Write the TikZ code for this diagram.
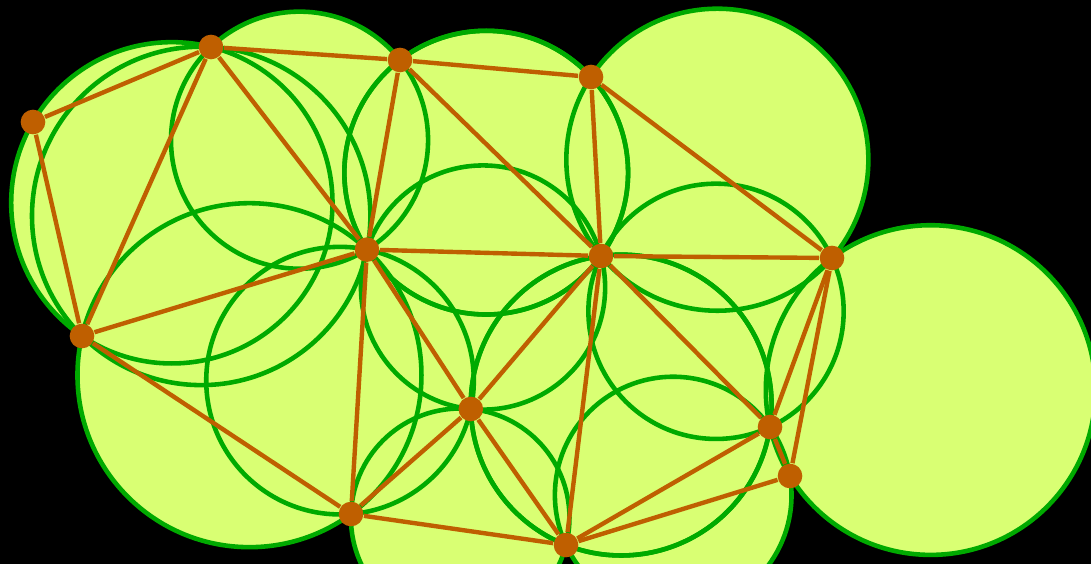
\documentclass[tikz,border=0pt]{standalone}
\usepackage{xcolor}
\pgfdeclarelayer{background}
\pgfdeclarelayer{foreground}
\pgfsetlayers{background,main,foreground}
\definecolor{discfill}{HTML}{D9FF73}
\definecolor{rimgreen}{HTML}{00AA00}
\definecolor{linkorange}{HTML}{BF5F00}
% circumcircle of three named sites, worked out in units of 50pt
\newcommand{\circumdisc}[3]{%
  \pgfpointanchor{#1}{center}\pgfgetlastxy{\ax}{\ay}%
  \pgfpointanchor{#2}{center}\pgfgetlastxy{\bx}{\by}%
  \pgfpointanchor{#3}{center}\pgfgetlastxy{\cx}{\cy}%
  \pgfmathsetmacro{\ax}{\ax/50}\pgfmathsetmacro{\ay}{\ay/50}%
  \pgfmathsetmacro{\bx}{\bx/50}\pgfmathsetmacro{\by}{\by/50}%
  \pgfmathsetmacro{\cx}{\cx/50}\pgfmathsetmacro{\cy}{\cy/50}%
  \pgfmathsetmacro{\sqa}{\ax*\ax+\ay*\ay}%
  \pgfmathsetmacro{\sqb}{\bx*\bx+\by*\by}%
  \pgfmathsetmacro{\sqc}{\cx*\cx+\cy*\cy}%
  \pgfmathsetmacro{\den}{2*(\ax*(\by-\cy)+\bx*(\cy-\ay)+\cx*(\ay-\by))}%
  \pgfmathsetmacro{\ux}{(\sqa*(\by-\cy)+\sqb*(\cy-\ay)+\sqc*(\ay-\by))/\den}%
  \pgfmathsetmacro{\uy}{(\sqa*(\cx-\bx)+\sqb*(\ax-\cx)+\sqc*(\bx-\ax))/\den}%
  \pgfmathsetmacro{\rr}{sqrt((\ax-\ux)^2+(\ay-\uy)^2)}%
  \begin{pgfonlayer}{background}
    \path[disc] (\ux*50pt,\uy*50pt) circle (\rr*50pt);
  \end{pgfonlayer}
  \path[rim] (\ux*50pt,\uy*50pt) circle (\rr*50pt);
}
\tikzset{
  disc/.style={fill=discfill},
  rim/.style={draw=rimgreen, line width=1.3pt},
  link/.style={draw=linkorange, line width=1.25pt},
  site/.style={
    circle,
    fill=linkorange,
    inner sep=0pt,
    minimum size=7pt
  }
}

\begin{document}
\begin{tikzpicture}[x=0.01cm, y=-0.01cm]

\useasboundingbox (0,0) rectangle (1091,564);
\begin{pgfonlayer}{background}
\fill[black] (0,0) rectangle (1091,564);
\end{pgfonlayer}

% Sites of the triangulation.
\begin{pgfonlayer}{foreground}
\node[site] (p1)  at (33,122)  {};
\node[site] (p2)  at (211,47)  {};
\node[site] (p3)  at (400,60)  {};
\node[site] (p4)  at (591,77)  {};
\node[site] (p5)  at (367,249.6) {};
\node[site] (p6)  at (601,256) {};
\node[site] (p7)  at (832,258) {};
\node[site] (p8)  at (82,336)  {};
\node[site] (p9)  at (470.8,409) {};
\node[site] (p10) at (770,427) {};
\node[site] (p11) at (790,476) {};
\node[site] (p12) at (351,514) {};
\node[site] (p13) at (566,545) {};
\end{pgfonlayer}

% One circumcircle per triangle: fills go underneath, rims stay on top.
\foreach \a/\b/\c in {p1/p2/p8, p2/p5/p8, p2/p3/p5, p3/p5/p6, p3/p4/p6,
                      p4/p6/p7, p5/p8/p12, p5/p9/p12, p5/p6/p9, p6/p9/p13,
                      p9/p12/p13, p6/p7/p10, p6/p10/p13, p10/p11/p13, p7/p10/p11}
  {\circumdisc{\a}{\b}{\c}}

% Triangle edges.
\foreach \a/\b in {p1/p2, p1/p8, p2/p3, p2/p5, p2/p8, p3/p4, p3/p5, p3/p6,
                   p4/p6, p4/p7, p5/p6, p5/p8, p5/p9, p5/p12, p6/p7, p6/p9,
                   p6/p10, p6/p13, p7/p10, p7/p11, p8/p12, p9/p12, p9/p13,
                   p12/p13, p10/p13, p11/p13, p10/p11}
  \draw[link] (\a) -- (\b);

\end{tikzpicture}
\end{document}
